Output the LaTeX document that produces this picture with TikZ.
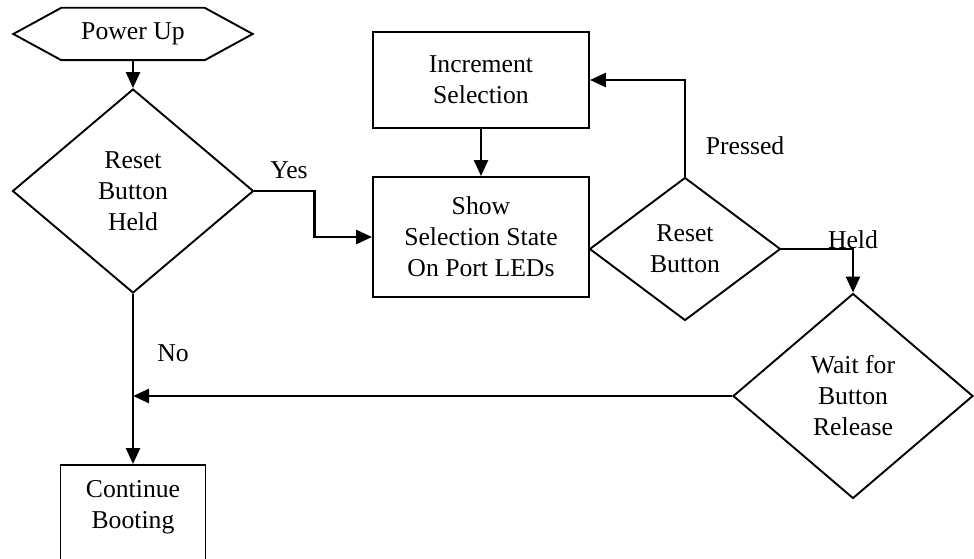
\documentclass[tikz,border=0pt]{standalone}
\usepackage{fontspec}
\setmainfont{Liberation Serif}
\usetikzlibrary{arrows.meta,shapes.geometric,calc}
\begin{document}
\begin{tikzpicture}[x=1pt,y=-1pt,
  every node/.style={font=\fontsize{25.7}{31}\selectfont, align=center, inner sep=0pt},
  outline/.style={draw, line width=1.9pt},
  procbox/.style={outline, rectangle},
  decision/.style={outline, diamond},
  conn/.style={line width=2.5pt, -{Triangle[length=16pt,width=14pt]}}
]
\useasboundingbox (0,0) rectangle (974,559);

\node (pu) [minimum width=143, minimum height=52] at (133,34) {Power Up};
\draw[outline] (pu.north west) -- (pu.north east) -- ($(pu.east)+(48,0)$) -- (pu.south east) -- (pu.south west) -- ($(pu.west)+(-48,0)$) -- cycle;

\node[decision, minimum width=241, minimum height=204] (d1) at (133,191) {Reset\\Button\\Held};
\node[procbox, minimum width=216, minimum height=96] (inc) at (481,80) {Increment\\Selection};
\node[procbox, minimum width=216, minimum height=120] (show) at (481,237) {Show\\Selection State\\On Port LEDs};
\node[decision, minimum width=191, minimum height=143] (d2) at (685,249) {Reset\\Button};
\node[decision, minimum width=240, minimum height=205] (d3) at (853,396) {Wait for\\Button\\Release};
\node[procbox, minimum width=145, minimum height=120, anchor=north] (cont) at (133,464) {};
\node (conttext) at (133,507) {Continue\\Booting};

\node (yes) at (289,170) {Yes};
\node (pressed) at (745,146) {Pressed};
\node (held) at (853,240) {Held};
\node (no) at (173,353) {No};

\coordinate (join) at (d3.west -| d1.south);

\draw[conn] (pu.south) -- (d1.north);
\draw[conn] (d1.east) -- ++(60,0) |- (show.west);
\draw[conn] (inc.south) -- (show.north);
\draw[conn] (d2.north) |- (inc.east);
\draw[conn] (d2.east) -| (d3.north);
\draw[conn] (d1.south) -- (cont.north);
\draw[conn] (d3.west) -- (join);
\end{tikzpicture}
\end{document}
